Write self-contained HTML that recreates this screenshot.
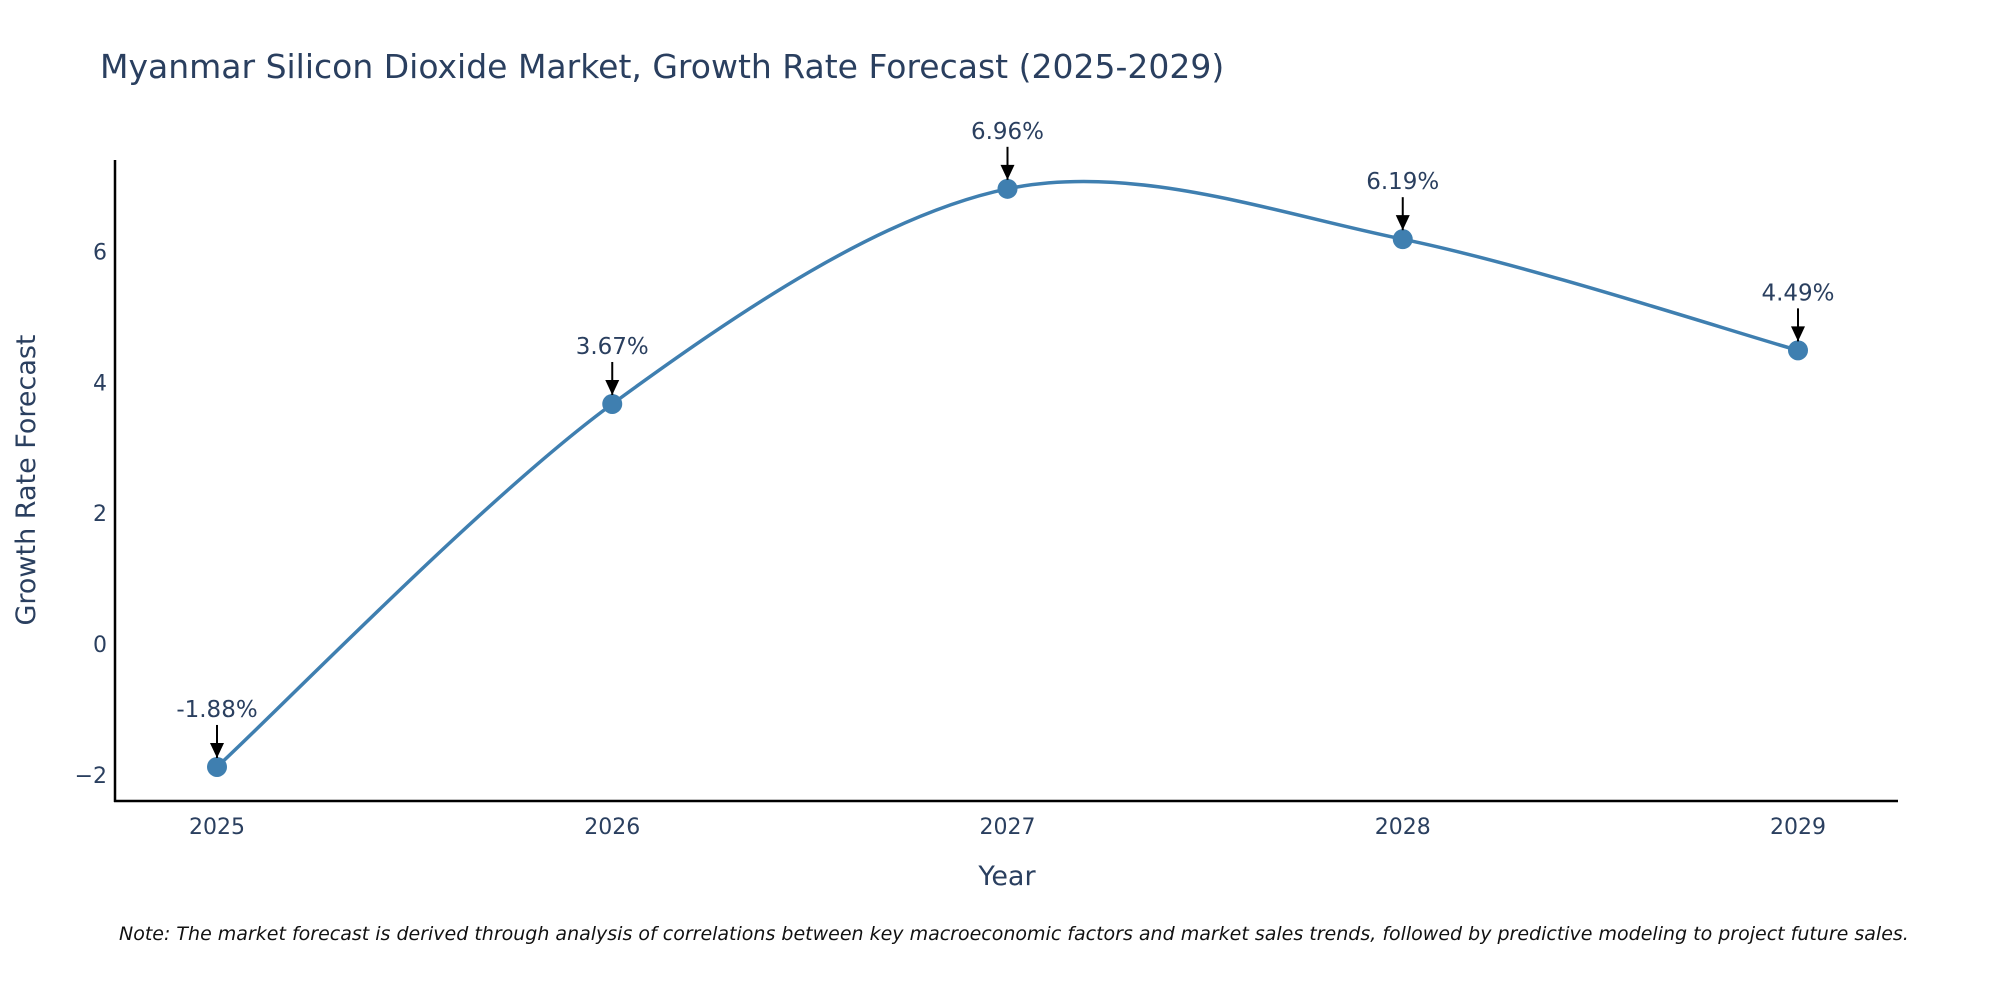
<!DOCTYPE html>
<html><head><meta charset="utf-8"><style>
body{margin:0;background:#fff;overflow:hidden;}
svg text{font-family:"DejaVu Sans","Liberation Sans",sans-serif;fill:#2a3f5f;}
</style></head><body>
<svg id="chart" width="2000" height="1000" xmlns="http://www.w3.org/2000/svg">
<text x="100" y="78" font-size="33">Myanmar Silicon Dioxide Market, Growth Rate Forecast (2025-2029)</text>
<g id="axes"></g>
<g id="plot"></g>
<text x="119" y="940" font-size="19" font-style="italic" style="fill:#111">Note: The market forecast is derived through analysis of correlations between key macroeconomic factors and market sales trends, followed by predictive modeling to project future sales.</text>
</svg>
<script>
const years=[2025,2026,2027,2028,2029];
const values=[-1.88,3.67,6.96,6.19,4.49];
const labels=["-1.88%","3.67%","6.96%","6.19%","4.49%"];
const yTicks=[-2,0,2,4,6];
const yTickLabels=["\u22122","0","2","4","6"];
const NS="http://www.w3.org/2000/svg";
const L=115,R=1898,B=801,T=160;
const xS=v=>217+(v-2025)*(1798-217)/4;
const yS=v=>644-v*65.4;
const axes=document.getElementById('axes'),plot=document.getElementById('plot');
function mk(tag,attrs,parent,txt){const e=document.createElementNS(NS,tag);for(const k in attrs)e.setAttribute(k,attrs[k]);if(txt!==undefined)e.textContent=txt;parent.appendChild(e);return e;}
let e;
e=mk('line',{x1:L,y1:T,x2:L,y2:B+1,stroke:'#000','stroke-width':2.5},axes);


e=mk('line',{x1:L-1,y1:B,x2:R,y2:B,stroke:'#000','stroke-width':2.5},axes);


yTicks.forEach((t,i)=>{e=mk('text',{x:L-8,y:yS(t)+8,'font-size':22,'text-anchor':'end'},axes,yTickLabels[i]);

});
years.forEach(y=>{e=mk('text',{x:xS(y),y:834,'font-size':22,'text-anchor':'middle'},axes,String(y));

});
e=mk('text',{x:1007,y:885,'font-size':27,'text-anchor':'middle'},axes,'Year');


e=mk('text',{x:35,y:480,'font-size':27,'text-anchor':'middle',transform:'rotate(-90 35 480)'},axes,'Growth Rate Forecast');


const pts=years.map((y,i)=>[xS(y),yS(values[i])]);
let d=`M${pts[0][0]},${pts[0][1]}`;const k=0.16;
for(let i=0;i<pts.length-1;i++){const p0=pts[Math.max(i-1,0)],p1=pts[i],p2=pts[i+1],p3=pts[Math.min(i+2,pts.length-1)];
const c1=[p1[0]+(p2[0]-p0[0])*k,p1[1]+(p2[1]-p0[1])*k],c2=[p2[0]-(p3[0]-p1[0])*k,p2[1]-(p3[1]-p1[1])*k];
d+=` C${c1[0]},${c1[1]} ${c2[0]},${c2[1]} ${p2[0]},${p2[1]}`;}
e=mk('path',{d:d,fill:'none',stroke:'#3f7fb0','stroke-width':3.5},plot);


mk('defs',{},plot).innerHTML='<marker id="ah" markerWidth="8" markerHeight="8" refX="7" refY="4" orient="auto" markerUnits="userSpaceOnUse" viewBox="0 0 8 8"><path d="M0,0 L8,4 L0,8 z" fill="#000"/></marker>';
pts.forEach((p,i)=>{
e=mk('circle',{cx:p[0],cy:p[1],r:10,fill:'#3f7fb0'},plot);


e=mk('line',{x1:p[0],y1:p[1]-42,x2:p[0],y2:p[1]-9,stroke:'#000','stroke-width':2},plot);


e=mk('path',{d:`M${p[0]-7},${p[1]-24} L${p[0]+7},${p[1]-24} L${p[0]},${p[1]-9} Z`,fill:'#000'},plot);


e=mk('text',{x:p[0],y:p[1]-50,'font-size':23,'text-anchor':'middle'},plot,labels[i]);


});
</script>
</body></html>
